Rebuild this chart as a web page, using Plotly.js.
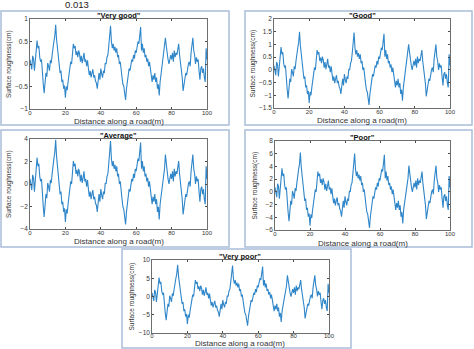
<!DOCTYPE html>
<html><head><meta charset="utf-8">
<script src="https://cdn.plot.ly/plotly-3.0.1.min.js"></script>
<style>html,body{margin:0;padding:0;background:#fff}#chart{width:474px;height:349px}</style>
</head><body><div id="chart"></div>
<script>
// Distance along the road (m), every 0.5 m
const distance = [];
for (let i = 0; i <= 200; i++) distance.push(i * 0.5);

const panelTitles = ['"Very good"', '"Good"', '"Average"', '"Poor"', '"Very poor"'];
const xTicks = [0, 20, 40, 60, 80, 100];

const veryGood = [0.10,0.00,-0.12,0.18,0.12,-0.15,0.15,0.45,0.52,0.35,
0.40,0.15,0.05,0.10,-0.30,-0.45,-0.65,-0.45,-0.20,-0.28,
0.02,-0.05,-0.15,0.08,0.02,0.20,0.40,0.50,0.62,0.87,
0.55,0.35,0.10,-0.05,-0.20,-0.15,-0.40,-0.35,-0.55,-0.48,
-0.75,-0.50,-0.58,-0.40,-0.25,-0.10,0.05,0.00,0.20,0.45,
0.35,0.40,0.20,0.28,0.15,0.30,0.22,0.05,0.18,0.02,
0.12,0.25,0.05,0.10,-0.05,0.08,-0.10,-0.25,-0.15,-0.30,
-0.20,-0.12,-0.30,-0.25,-0.38,-0.42,-0.55,-0.30,-0.20,-0.35,
-0.10,-0.22,-0.30,-0.15,-0.20,0.02,0.00,0.15,0.20,0.40,
0.60,0.85,0.50,0.35,0.45,0.30,0.38,0.25,0.35,0.15,
0.20,0.00,0.05,-0.20,-0.30,-0.45,-0.50,-0.65,-0.80,-0.55,
-0.40,-0.20,-0.10,-0.15,0.00,0.10,0.05,0.20,0.12,0.30,
0.25,0.35,0.50,0.45,0.65,0.82,0.30,0.45,0.25,0.35,
0.15,0.20,0.05,0.12,-0.05,0.05,-0.10,-0.30,-0.40,-0.25,
-0.35,-0.20,-0.40,-0.30,-0.55,-0.45,-0.70,-0.40,-0.25,-0.05,
0.00,0.15,0.30,0.58,0.40,0.20,0.10,0.00,0.08,0.20,
0.10,0.25,0.05,0.30,0.15,0.25,0.20,0.40,0.45,0.20,
0.05,-0.10,-0.30,-0.60,-0.45,-0.40,-0.20,-0.25,-0.05,0.00,
0.05,-0.05,0.25,0.40,0.58,0.30,0.20,0.00,0.15,0.05,
0.10,-0.15,-0.35,-0.10,-0.05,-0.20,-0.10,-0.30,-0.40,0.35,
0.10];

const good = [0.17,0,-0.21,0.31,0.21,-0.26,0.26,0.78,0.9,0.61,
0.69,0.26,0.09,0.17,-0.52,-0.78,-1.12,-0.78,-0.35,-0.48,
0.03,-0.09,-0.26,0.14,0.03,0.35,0.69,0.87,1.07,1.5,
0.95,0.61,0.17,-0.09,-0.35,-0.26,-0.69,-0.61,-0.95,-0.83,
-1.3,-0.87,-1.0,-0.69,-0.43,-0.17,0.09,0,0.35,0.78,
0.61,0.69,0.35,0.48,0.26,0.52,0.38,0.09,0.31,0.03,
0.21,0.43,0.09,0.17,-0.09,0.14,-0.17,-0.43,-0.26,-0.52,
-0.35,-0.21,-0.52,-0.43,-0.66,-0.73,-0.95,-0.52,-0.35,-0.61,
-0.17,-0.38,-0.52,-0.26,-0.35,0.03,0,0.26,0.35,0.69,
1.04,1.47,0.87,0.61,0.78,0.52,0.66,0.43,0.61,0.26,
0.35,0,0.09,-0.35,-0.52,-0.78,-0.87,-1.12,-1.38,-0.95,
-0.69,-0.35,-0.17,-0.26,0,0.17,0.09,0.35,0.21,0.52,
0.43,0.61,0.87,0.78,1.12,1.42,0.52,0.78,0.43,0.61,
0.26,0.35,0.09,0.21,-0.09,0.09,-0.17,-0.52,-0.69,-0.43,
-0.61,-0.35,-0.69,-0.52,-0.95,-0.78,-1.21,-0.69,-0.43,-0.09,
0,0.26,0.52,1.0,0.69,0.35,0.17,0,0.14,0.35,
0.17,0.43,0.09,0.52,0.26,0.43,0.35,0.69,0.78,0.35,
0.09,-0.17,-0.52,-1.04,-0.78,-0.69,-0.35,-0.43,-0.09,0,
0.09,-0.09,0.43,0.69,1.0,0.52,0.35,0,0.26,0.09,
0.17,-0.26,-0.61,-0.17,-0.09,-0.35,-0.17,-0.52,-0.69,0.61,
0.17];

const average = [0.45,0,-0.54,0.81,0.54,-0.68,0.68,2.03,2.34,1.58,
1.8,0.68,0.23,0.45,-1.35,-2.03,-2.93,-2.03,-0.9,-1.26,
0.09,-0.23,-0.68,0.36,0.09,0.9,1.8,2.25,2.79,3.92,
2.48,1.58,0.45,-0.23,-0.9,-0.68,-1.8,-1.58,-2.48,-2.16,
-3.38,-2.25,-2.61,-1.8,-1.13,-0.45,0.23,0,0.9,2.03,
1.58,1.8,0.9,1.26,0.68,1.35,0.99,0.23,0.81,0.09,
0.54,1.13,0.23,0.45,-0.23,0.36,-0.45,-1.13,-0.68,-1.35,
-0.9,-0.54,-1.35,-1.13,-1.71,-1.89,-2.48,-1.35,-0.9,-1.58,
-0.45,-0.99,-1.35,-0.68,-0.9,0.09,0,0.68,0.9,1.8,
2.7,3.83,2.25,1.58,2.03,1.35,1.71,1.13,1.58,0.68,
0.9,0,0.23,-0.9,-1.35,-2.03,-2.25,-2.93,-3.6,-2.48,
-1.8,-0.9,-0.45,-0.68,0,0.45,0.23,0.9,0.54,1.35,
1.13,1.58,2.25,2.03,2.93,3.69,1.35,2.03,1.13,1.58,
0.68,0.9,0.23,0.54,-0.23,0.23,-0.45,-1.35,-1.8,-1.13,
-1.58,-0.9,-1.8,-1.35,-2.48,-2.03,-3.15,-1.8,-1.13,-0.23,
0,0.68,1.35,2.61,1.8,0.9,0.45,0,0.36,0.9,
0.45,1.13,0.23,1.35,0.68,1.13,0.9,1.8,2.03,0.9,
0.23,-0.45,-1.35,-2.7,-2.03,-1.8,-0.9,-1.13,-0.23,0,
0.23,-0.23,1.13,1.8,2.61,1.35,0.9,0,0.68,0.23,
0.45,-0.68,-1.58,-0.45,-0.23,-0.9,-0.45,-1.35,-1.8,1.58,
0.45];

const poor = [0.71,0,-0.85,1.28,0.85,-1.07,1.07,3.2,3.69,2.49,
2.84,1.07,0.36,0.71,-2.13,-3.2,-4.62,-3.2,-1.42,-1.99,
0.14,-0.36,-1.07,0.57,0.14,1.42,2.84,3.55,4.4,6.18,
3.91,2.49,0.71,-0.36,-1.42,-1.07,-2.84,-2.49,-3.91,-3.41,
-5.33,-3.55,-4.12,-2.84,-1.78,-0.71,0.36,0,1.42,3.2,
2.49,2.84,1.42,1.99,1.07,2.13,1.56,0.36,1.28,0.14,
0.85,1.78,0.36,0.71,-0.36,0.57,-0.71,-1.78,-1.07,-2.13,
-1.42,-0.85,-2.13,-1.78,-2.7,-2.98,-3.91,-2.13,-1.42,-2.49,
-0.71,-1.56,-2.13,-1.07,-1.42,0.14,0,1.07,1.42,2.84,
4.26,6.04,3.55,2.49,3.2,2.13,2.7,1.78,2.49,1.07,
1.42,0,0.36,-1.42,-2.13,-3.2,-3.55,-4.62,-5.68,-3.91,
-2.84,-1.42,-0.71,-1.07,0,0.71,0.36,1.42,0.85,2.13,
1.78,2.49,3.55,3.2,4.62,5.82,2.13,3.2,1.78,2.49,
1.07,1.42,0.36,0.85,-0.36,0.36,-0.71,-2.13,-2.84,-1.78,
-2.49,-1.42,-2.84,-2.13,-3.91,-3.2,-4.97,-2.84,-1.78,-0.36,
0,1.07,2.13,4.12,2.84,1.42,0.71,0,0.57,1.42,
0.71,1.78,0.36,2.13,1.07,1.78,1.42,2.84,3.2,1.42,
0.36,-0.71,-2.13,-4.26,-3.2,-2.84,-1.42,-1.78,-0.36,0,
0.36,-0.36,1.78,2.84,4.12,2.13,1.42,0,1.07,0.36,
0.71,-1.07,-2.49,-0.71,-0.36,-1.42,-0.71,-2.13,-2.84,2.49,
0.71];

const veryPoor = [1.0,0.0,-1.2,1.8,1.2,-1.5,1.5,4.5,5.2,3.5,
4.0,1.5,0.5,1.0,-3.0,-4.5,-6.5,-4.5,-2.0,-2.8,
0.2,-0.5,-1.5,0.8,0.2,2.0,4.0,5.0,6.2,8.7,
5.5,3.5,1.0,-0.5,-2.0,-1.5,-4.0,-3.5,-5.5,-4.8,
-7.5,-5.0,-5.8,-4.0,-2.5,-1.0,0.5,0.0,2.0,4.5,
3.5,4.0,2.0,2.8,1.5,3.0,2.2,0.5,1.8,0.2,
1.2,2.5,0.5,1.0,-0.5,0.8,-1.0,-2.5,-1.5,-3.0,
-2.0,-1.2,-3.0,-2.5,-3.8,-4.2,-5.5,-3.0,-2.0,-3.5,
-1.0,-2.2,-3.0,-1.5,-2.0,0.2,0.0,1.5,2.0,4.0,
6.0,8.5,5.0,3.5,4.5,3.0,3.8,2.5,3.5,1.5,
2.0,0.0,0.5,-2.0,-3.0,-4.5,-5.0,-6.5,-8.0,-5.5,
-4.0,-2.0,-1.0,-1.5,0.0,1.0,0.5,2.0,1.2,3.0,
2.5,3.5,5.0,4.5,6.5,8.2,3.0,4.5,2.5,3.5,
1.5,2.0,0.5,1.2,-0.5,0.5,-1.0,-3.0,-4.0,-2.5,
-3.5,-2.0,-4.0,-3.0,-5.5,-4.5,-7.0,-4.0,-2.5,-0.5,
0.0,1.5,3.0,5.8,4.0,2.0,1.0,0.0,0.8,2.0,
1.0,2.5,0.5,3.0,1.5,2.5,2.0,4.0,4.5,2.0,
0.5,-1.0,-3.0,-6.0,-4.5,-4.0,-2.0,-2.5,-0.5,0.0,
0.5,-0.5,2.5,4.0,5.8,3.0,2.0,0.0,1.5,0.5,
1.0,-1.5,-3.5,-1.0,-0.5,-2.0,-1.0,-3.0,-4.0,3.5,
1.0];

const yRanges = [[-1,1],[-1.5,2],[-4,4],[-6,8],[-10,10]];
const yDticks = [0.5, 0.5, 2, 2, 5];
const series = [veryGood, good, average, poor, veryPoor];

// layout geometry (pixels in a 474x349 page)
const W = 474, H = 349;
const px = v => v / W, py = v => 1 - v / H;
const plotBoxes = [ // [x0,x1,y0(top),y1(bottom)]
  [30,207,19,109],[274,450,19,108],[30,207,139,229],[275,450,141,230],[152,329,260,333]];
const frames = [[1,229,11,125],[245,472,11,125],[1,229,130,247],[245,472,130,247],[122,351,249,348]];
const xTitleOffset = [13, 13, 13, 13, 10];
const tickStandoff = [-2, -2, -2, -2, -3];

const traces = [];
const layout = {
  width: W, height: H, margin:{l:0,r:0,t:0,b:0},
  paper_bgcolor:'#fff', plot_bgcolor:'#fff', showlegend:false,
  font:{family:'Liberation Sans, Arial, sans-serif', color:'#262626', size:7},
  annotations:[], shapes:[]
};
series.forEach((ys, i) => {
  const k = i === 0 ? '' : String(i+1);
  traces.push({x: distance, y: ys, type:'scatter', mode:'lines',
    xaxis:'x'+k, yaxis:'y'+k, line:{color:'#2f86c9', width:1.1}, hoverinfo:'skip'});
  const b = plotBoxes[i];
  const ax = {showgrid:false, zeroline:false, showline:true, mirror:'ticks', linecolor:'#4a4a4a', linewidth:0.8,
    ticks:'inside', ticklen:2, tickcolor:'#4a4a4a', tickfont:{size:6.5, color:'#333'}};
  layout['xaxis'+k] = Object.assign({}, ax, {domain:[px(b[0]),px(b[1])], anchor:'y'+k, range:[0,100],
    tickvals:xTicks, ticktext:xTicks.map(String), ticklabelstandoff:tickStandoff[i], tickfont:{size:6, color:'#333'}});
  layout['yaxis'+k] = Object.assign({}, ax, {domain:[py(b[3]),py(b[2])], anchor:'x'+k, range:yRanges[i],
    dtick:yDticks[i], tick0:0});
  const cx = (b[0]+b[1])/2;
  layout.annotations.push({xref:'paper', yref:'paper', x:px(cx), y:py(b[2]-4), text:'<b>'+panelTitles[i]+'</b>',
    showarrow:false, font:{size:7.5, color:'#111'}, xanchor:'center', yanchor:'middle'});
  layout.annotations.push({xref:'paper', yref:'paper', x:px(cx), y:py(b[3]+xTitleOffset[i]), text:'Distance along a road(m)',
    showarrow:false, font:{size:8, color:'#333'}, xanchor:'center', yanchor:'middle'});
  layout.annotations.push({xref:'paper', yref:'paper', x:px(b[0]-21), y:py((b[2]+b[3])/2), text:'Surface roughness(cm)',
    showarrow:false, textangle:-90, font:{size:6.5, color:'#333'}, xanchor:'center', yanchor:'middle'});
  const f = frames[i];
  layout.shapes.push({type:'rect', xref:'paper', yref:'paper', x0:px(f[0]), x1:px(f[1]), y0:py(f[3]), y1:py(f[2]),
    line:{color:'#a9bdd8', width:1.5}, fillcolor:'rgba(0,0,0,0)'});
});
layout.annotations.push({xref:'paper', yref:'paper', x:px(77), y:py(5), text:'0.013', showarrow:false,
  font:{size:9.5, color:'#222', family:'Liberation Sans, Arial, sans-serif'}, xanchor:'center', yanchor:'middle'});

Plotly.newPlot('chart', traces, layout, {staticPlot:true, displayModeBar:false});
</script></body></html>
